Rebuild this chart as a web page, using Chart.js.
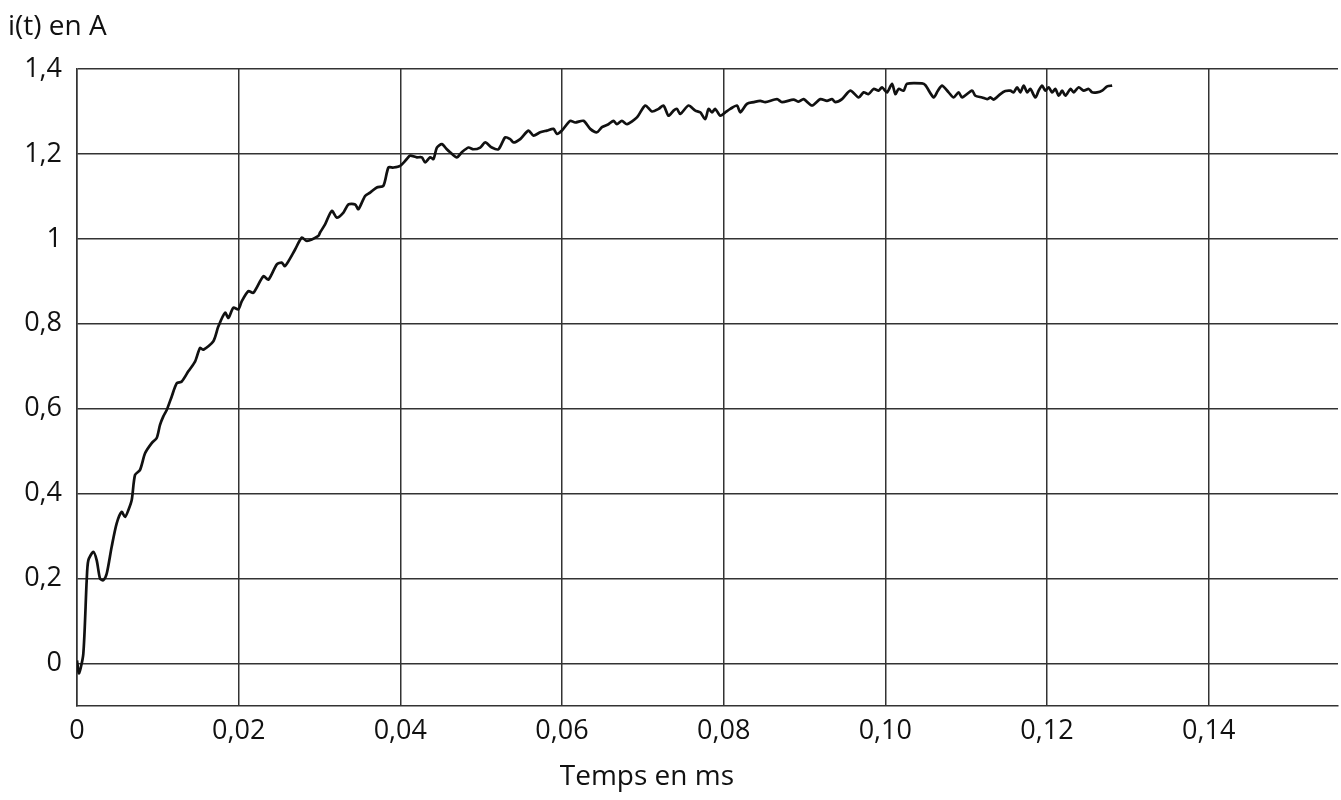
<!DOCTYPE html>
<html lang="fr">
<head>
    <meta charset="UTF-8">
    <title>i(t) en A</title>
    <style>
        body {
            margin: 0;
            background-color: #fff;
        }
        #chart {
            display: block;
        }
    </style>
    <script src="https://cdn.jsdelivr.net/npm/chart.js"></script>
</head>
<body>
    <canvas id="chart" width="1341" height="800"></canvas>
    <script>
        // Time in ms
        var times = [
            0, 0.00025, 0.00078, 0.00120, 0.00140, 0.00202, 0.00244, 0.00285, 0.00325, 0.00368,
            0.00429, 0.00491, 0.00553, 0.00594, 0.00635, 0.00677, 0.00718, 0.00780, 0.00842, 0.00924,
            0.00986, 0.01027, 0.01068, 0.01110, 0.01172, 0.01234, 0.01296, 0.01377, 0.01460, 0.01522,
            0.01563, 0.01687, 0.01749, 0.01832, 0.01873, 0.01934, 0.01996, 0.02038, 0.02120, 0.02182,
            0.02306, 0.02368, 0.02472, 0.02533, 0.02574, 0.02698, 0.02781, 0.02843, 0.02986, 0.03007,
            0.03069, 0.03152, 0.03214, 0.03296, 0.03358, 0.03441, 0.03481, 0.03564, 0.03626, 0.03709,
            0.03791, 0.03853, 0.03915, 0.03998, 0.04080, 0.04121, 0.04204, 0.04266, 0.04307, 0.04369,
            0.04410, 0.04452, 0.04514, 0.04575, 0.04616, 0.04699, 0.04761, 0.04843, 0.04905, 0.04988,
            0.05050, 0.05132, 0.05214, 0.05297, 0.05359, 0.05400, 0.05483, 0.05585, 0.05647, 0.05730,
            0.05813, 0.05895, 0.05937, 0.05999, 0.06101, 0.06163, 0.06266, 0.06349, 0.06432, 0.06494,
            0.06575, 0.06637, 0.06679, 0.06741, 0.06803, 0.06927, 0.07030, 0.07113, 0.07194, 0.07256,
            0.07318, 0.07380, 0.07422, 0.07463, 0.07565, 0.07649, 0.07710, 0.07772, 0.07813, 0.07855,
            0.07896, 0.07958, 0.08020, 0.08082, 0.08165, 0.08205, 0.08288, 0.08370, 0.08453, 0.08515,
            0.08660, 0.08721, 0.08865, 0.08927, 0.08989, 0.09093, 0.09196, 0.09278, 0.09340, 0.09381,
            0.09464, 0.09567, 0.09670, 0.09731, 0.09793, 0.09855, 0.09917, 0.09959, 0.10021, 0.10083,
            0.10124, 0.10165, 0.10226, 0.10268, 0.10454, 0.10495, 0.10598, 0.10650, 0.10702, 0.10783,
            0.10845, 0.10907, 0.10949, 0.11073, 0.11114, 0.11197, 0.11259, 0.11300, 0.11340, 0.11423,
            0.11485, 0.11547, 0.11588, 0.11630, 0.11671, 0.11712, 0.11754, 0.11794, 0.11856, 0.11897,
            0.11939, 0.11980, 0.12021, 0.12063, 0.12104, 0.12145, 0.12187, 0.12228, 0.12290, 0.12330,
            0.12392, 0.12454, 0.12516, 0.12558, 0.12620, 0.12682, 0.12744, 0.12806
        ];

        // Current in A
        var current = [
            0.007, -0.023, 0.023, 0.196, 0.243, 0.263, 0.243, 0.200, 0.196, 0.212,
            0.275, 0.330, 0.357, 0.345, 0.361, 0.385, 0.444, 0.456, 0.495, 0.519,
            0.531, 0.562, 0.582, 0.597, 0.629, 0.660, 0.664, 0.688, 0.711, 0.743,
            0.739, 0.759, 0.794, 0.826, 0.814, 0.838, 0.834, 0.853, 0.877, 0.873,
            0.912, 0.904, 0.940, 0.944, 0.936, 0.975, 1.003, 0.995, 1.007, 1.015,
            1.034, 1.066, 1.050, 1.062, 1.081, 1.081, 1.070, 1.101, 1.109, 1.121,
            1.125, 1.168, 1.168, 1.172, 1.188, 1.196, 1.192, 1.192, 1.180, 1.192,
            1.188, 1.215, 1.223, 1.211, 1.204, 1.192, 1.204, 1.215, 1.211, 1.215,
            1.227, 1.215, 1.211, 1.239, 1.235, 1.227, 1.235, 1.255, 1.243, 1.251,
            1.255, 1.259, 1.247, 1.255, 1.278, 1.274, 1.278, 1.259, 1.251, 1.263,
            1.270, 1.278, 1.270, 1.278, 1.270, 1.286, 1.314, 1.300, 1.306, 1.314,
            1.290, 1.302, 1.306, 1.294, 1.314, 1.302, 1.298, 1.282, 1.306, 1.298,
            1.306, 1.290, 1.298, 1.306, 1.314, 1.298, 1.318, 1.322, 1.325, 1.322,
            1.329, 1.322, 1.328, 1.323, 1.329, 1.314, 1.329, 1.325, 1.329, 1.322,
            1.329, 1.349, 1.333, 1.345, 1.341, 1.353, 1.349, 1.357, 1.345, 1.365,
            1.341, 1.353, 1.349, 1.365, 1.366, 1.362, 1.333, 1.349, 1.361, 1.345,
            1.333, 1.345, 1.333, 1.349, 1.337, 1.333, 1.329, 1.333, 1.328, 1.341,
            1.348, 1.349, 1.345, 1.357, 1.345, 1.361, 1.345, 1.353, 1.333, 1.349,
            1.361, 1.349, 1.357, 1.345, 1.353, 1.337, 1.349, 1.337, 1.353, 1.345,
            1.357, 1.349, 1.353, 1.345, 1.345, 1.349, 1.359, 1.361
        ];

        // Axes
        var xMin = 0, xMax = 0.156, xStep = 0.02;
        var yMin = -0.1, yMax = 1.4, yStep = 0.2;
        var yTitle = 'i(t) en A';
        var xTitle = 'Temps en ms';

        var points = times.map(function (t, i) {
            return { x: t, y: current[i] };
        });

        var textColor = '#111';
        var gridColor = '#333';

        // Axis titles are placed like in the original figure
        var titlesPlugin = {
            id: 'titles',
            afterDraw: function (chart) {
                var ctx = chart.ctx;
                ctx.save();
                ctx.fillStyle = textColor;
                ctx.textBaseline = 'alphabetic';
                ctx.textAlign = 'left';
                ctx.font = '28px "Open Sans"';
                ctx.fillText(yTitle, 8, 35);
                ctx.textAlign = 'center';
                ctx.font = '28px "Open Sans"';
                ctx.fillText(xTitle, chart.scales.x.getPixelForValue(0.0705), 785);
                ctx.restore();
            }
        };

        new Chart(document.getElementById('chart'), {
            type: 'line',
            data: {
                datasets: [{
                    data: points,
                    borderColor: '#111',
                    borderWidth: 2.7,
                    pointRadius: 0,
                    tension: 0.25,
                    fill: false
                }]
            },
            options: {
                responsive: false,
                animation: false,
                layout: {
                    padding: { top: 69, right: 3, left: 0, bottom: 0 }
                },
                plugins: {
                    legend: { display: false },
                    tooltip: { enabled: false }
                },
                scales: {
                    x: {
                        type: 'linear',
                        min: xMin,
                        max: xMax,
                        afterFit: function (scale) { scale.height = 94; },
                        grid: { color: gridColor, lineWidth: 1.5, drawTicks: false },
                        border: { color: gridColor, width: 1.5 },
                        ticks: {
                            stepSize: xStep,
                            includeBounds: false,
                            padding: 9,
                            color: textColor,
                            font: { family: 'Open Sans', size: 27 },
                            maxRotation: 0,
                            callback: function (v) {
                                if (Math.abs(v) < 1e-9) return '0';
                                return v.toFixed(2).replace('.', ',');
                            }
                        }
                    },
                    y: {
                        min: yMin,
                        max: yMax,
                        afterFit: function (scale) { scale.width = 77; },
                        grid: { color: gridColor, lineWidth: 1.5, drawTicks: false },
                        border: { color: gridColor, width: 1.5 },
                        ticks: {
                            stepSize: yStep,
                            includeBounds: false,
                            padding: 15,
                            color: textColor,
                            font: { family: 'Open Sans', size: 27 },
                            callback: function (v) {
                                var r = Math.round(v * 10) / 10;
                                if (r < 0) return '';
                                return String(r).replace('.', ',');
                            }
                        }
                    }
                }
            },
            plugins: [titlesPlugin]
        });
    </script>
</body>
</html>
